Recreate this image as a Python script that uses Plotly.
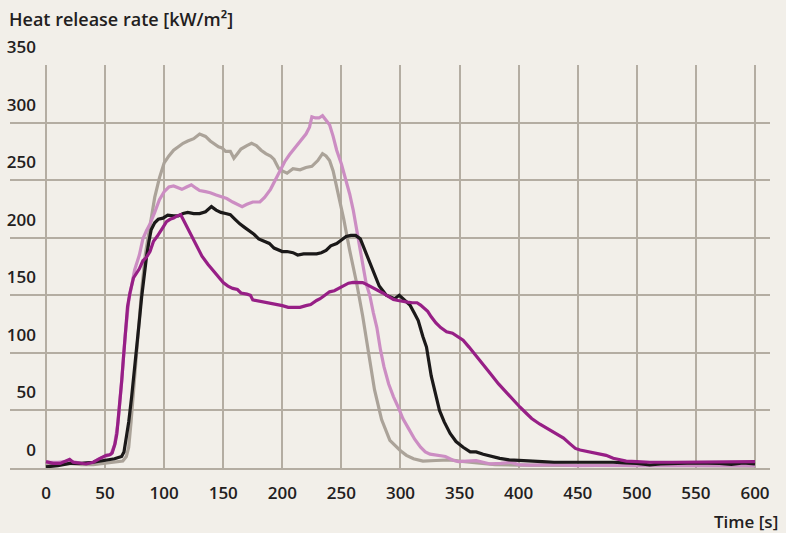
import plotly.graph_objects as go

# ---- data ----
gray_t = [0, 10, 20, 30, 40, 50, 60, 65, 68, 70, 72, 75, 78, 81, 84, 88, 92, 96, 100, 104, 108, 112, 116, 120,
          125, 130, 135, 139, 142, 146, 149, 152, 156, 159, 162, 165, 170, 174, 178, 182, 186, 190, 193, 197,
          200, 204, 209, 215, 220, 225, 230, 234, 237, 240, 243, 246, 249, 252, 257, 263, 268, 273, 278, 284,
          291, 300, 305, 311, 319, 330, 342, 350, 360, 380, 400, 450, 500, 550, 600]
gray_v = [3, 3, 4, 3, 3, 4, 5, 6, 10, 18, 40, 80, 120, 155, 185, 210, 235, 252, 265, 271, 276, 279, 282, 284,
          286, 290, 288, 284, 282, 279, 278, 275, 275, 269, 273, 277, 280, 282, 280, 276, 273, 271, 268, 260,
          258, 256, 260, 259, 261, 262, 267, 273, 271, 267, 258, 244, 231, 216, 189, 160, 132, 102, 68, 42,
          24, 15, 11, 8, 6, 6.5, 7, 6, 5, 3, 2.5, 2, 2, 2, 1.5]

pink_t = [0, 10, 20, 30, 40, 45, 50, 55, 58, 61, 64, 67, 70, 73, 75, 79, 82, 85, 88, 92, 96, 100, 104, 108,
          111, 115, 119, 123, 127, 130, 135, 139, 144, 149, 153, 158, 162, 166, 170, 175, 181, 185, 190, 194,
          198, 202, 206, 210, 214, 217, 220, 223, 225, 228, 231, 234, 237, 240, 243, 246, 250, 253, 257, 260,
          263, 266, 271, 274, 277, 280, 283, 286, 290, 294, 298, 302, 307, 312, 317, 321, 325, 331, 338, 344,
          349, 356, 364, 370, 376, 385, 393, 400, 410, 430, 450, 480, 500, 530, 560, 600]
pink_v = [5, 5, 6, 4, 5, 8, 10, 12, 20, 40, 75, 115, 145, 163, 172, 185, 199, 206, 212, 222, 233, 240, 244, 245,
          244, 242, 244, 246, 243, 241, 240, 239, 237, 235, 234, 231, 229, 227, 229, 231, 231, 235, 242, 250,
          259, 266, 272, 277, 283, 286, 290, 296, 305, 304, 304, 306, 302, 298, 288, 276, 264, 253, 238, 224,
          205, 189, 160, 150, 135, 122, 103, 88, 73, 62, 53, 43, 34, 25, 18, 14, 12, 11, 10, 7,
          5.5, 6, 6.4, 5, 3.5, 4, 5, 3, 2.5, 3, 2, 2.5, 2, 2, 2, 2]

black_t = [0, 10, 20, 30, 40, 50, 58, 64, 66, 68, 70, 72.5, 75, 77, 79, 81, 83, 85, 87, 89, 92, 95, 99, 103,
           108, 112, 116, 120, 125, 130, 135, 140, 144, 148, 152, 156, 160, 164, 168, 172, 176, 180, 184, 189,
           193, 197, 200, 204, 209, 213, 218, 223, 229, 233, 237, 241, 246, 250, 254, 258, 262, 266, 270, 274,
           277, 282, 288, 292, 295, 299, 303, 308, 312, 315, 319, 322, 326, 330, 333, 337, 342, 347, 353, 359,
           364, 370, 377, 384, 392, 400, 410, 420, 430, 450, 466, 480, 490, 500, 511, 520, 535, 550, 570, 580,
           590, 600]
black_v = [1, 2, 4, 4, 5, 7, 8, 10, 14, 27, 40, 62, 85, 105, 128, 149, 168, 183, 196, 207, 213, 216, 217, 219.6,
           219, 219, 221, 222, 221, 221, 222.5, 227, 224, 222, 221, 220, 216, 212, 209, 206, 203, 199, 197, 195,
           191, 189, 188, 188, 187, 185, 186, 186, 186, 187, 189, 193, 195, 198, 201, 202, 202, 199, 189, 178,
           172, 158, 150, 148, 147, 150, 146, 141.5, 134, 128, 114, 105, 80, 62, 50, 40, 30, 23, 18, 14,
           14, 12, 10, 8.4, 7, 6.4, 6, 5.5, 5, 5, 5.5, 5, 4.5, 4, 2.6, 3.5, 4, 4.5, 4, 3.2,
           4.5, 3.5]

purple_t = [0, 6, 12, 17, 20, 23, 28, 34, 40, 43, 47, 51, 54, 56, 58.4, 60, 61.2, 62.6, 64.1, 65.5, 67, 69, 71,
            74, 79, 82, 85, 88, 91, 94, 99, 102, 105, 108, 111, 114, 116, 119, 123, 127, 132, 137, 141, 146,
            150, 154, 158, 162, 165, 170, 173, 175, 180, 187, 195, 200, 205, 210, 215, 220, 224, 229, 232, 236,
            240, 244, 248, 252, 256, 260, 265, 268, 272, 276, 280, 285, 289, 294, 298, 302, 306, 310, 314, 317,
            320, 323, 326, 330, 334, 339, 344, 349, 353, 358, 364, 370, 376, 383, 390, 396, 401, 406, 411, 418,
            426, 432, 438, 443, 448, 452, 460, 468, 474, 480, 486, 491, 500, 511, 530, 550, 570, 590, 600]
purple_v = [5.5, 4, 4, 6, 7.5, 5, 4, 3.5, 5, 7, 9, 11, 11.5, 13, 21, 30, 42, 60, 76, 95, 117, 140, 152,
            165, 173, 180, 183, 188, 197, 201, 209, 214, 216, 217, 219, 220, 216, 210, 202, 193, 184, 177, 172, 166,
            161, 158, 156, 155, 152, 151, 150, 146, 145, 144, 142, 141, 139.5, 139.5, 139.5, 141, 142, 145.5, 147, 150,
            153, 154, 156, 158, 160.5, 161.2, 161.5, 161, 159, 157, 155, 152, 149.5, 146.4, 145.5, 144.5, 144, 143.5, 143.5, 141.5,
            139, 136, 131.3, 126, 122, 118.3, 117, 114, 111, 105, 97, 90, 82, 73, 65, 58, 53, 48, 43, 38,
            33, 30, 26, 21.4, 17, 15.6, 14, 12.7, 11, 8.4, 7, 6, 5.5, 5, 5, 5, 5.5, 5, 5.5]

x_ticks = [0, 50, 100, 150, 200, 250, 300, 350, 400, 450, 500, 550, 600]
y_ticks = [0, 50, 100, 150, 200, 250, 300, 350]

# ---- styling ----
BG = "#f2efe9"
GRID = "#b4ada2"
TEXT = "#222020"
FONT = "Open Sans"

series = [
    (gray_t, gray_v, "#aba399"),
    (pink_t, pink_v, "#cc8dc3"),
    (black_t, black_v, "#1b1919"),
    (purple_t, purple_v, "#971f86"),
]

fig = go.Figure()
for t, v, c in series:
    fig.add_trace(go.Scatter(x=t, y=v, mode="lines", line=dict(color=c, width=3.2),
                             hoverinfo="skip", showlegend=False))

W, H = 786, 533
L, R, T, B = 10, 16, 65, 65
fig.update_layout(
    width=W, height=H,
    margin=dict(l=L, r=R, t=T, b=B, autoexpand=False),
    paper_bgcolor=BG, plot_bgcolor=BG,
    font=dict(family=FONT, size=17, color=TEXT, weight=600),
    showlegend=False,
    title=dict(text="Heat release rate [kW/m²]", x=9 / W, xanchor="left", xref="container",
               y=1 - 20 / H, yanchor="middle", yref="container",
               font=dict(family=FONT, size=18, color=TEXT, weight=600)),
)
fig.update_xaxes(
    range=[-30.46, 612.7], tickvals=x_ticks, ticktext=[str(v) for v in x_ticks],
    showgrid=True, gridcolor=GRID, gridwidth=1.6, zeroline=False,
    showline=True, linecolor=GRID, linewidth=2, ticks="",
    ticklabelstandoff=9, fixedrange=True,
)
fig.update_yaxes(
    range=[0, 350], tickvals=y_ticks, ticktext=[str(v) for v in y_ticks],
    showgrid=True, gridcolor=GRID, gridwidth=1.6, zeroline=False,
    showline=False, ticks="", ticklabelstandoff=-27, ticklabelshift=-18, fixedrange=True,
)
fig.add_annotation(text="Time [s]", xref="paper", yref="paper",
                   x=1 + (780 - (W - R)) / (W - L - R), xanchor="right",
                   y=-(521 - (H - B)) / (H - T - B), yanchor="middle",
                   showarrow=False, font=dict(family=FONT, size=17, color=TEXT, weight=600))

fig.write_html("out.html", config={"displayModeBar": False},
               post_script="document.body.style.margin='0';document.body.style.overflow='hidden';")
